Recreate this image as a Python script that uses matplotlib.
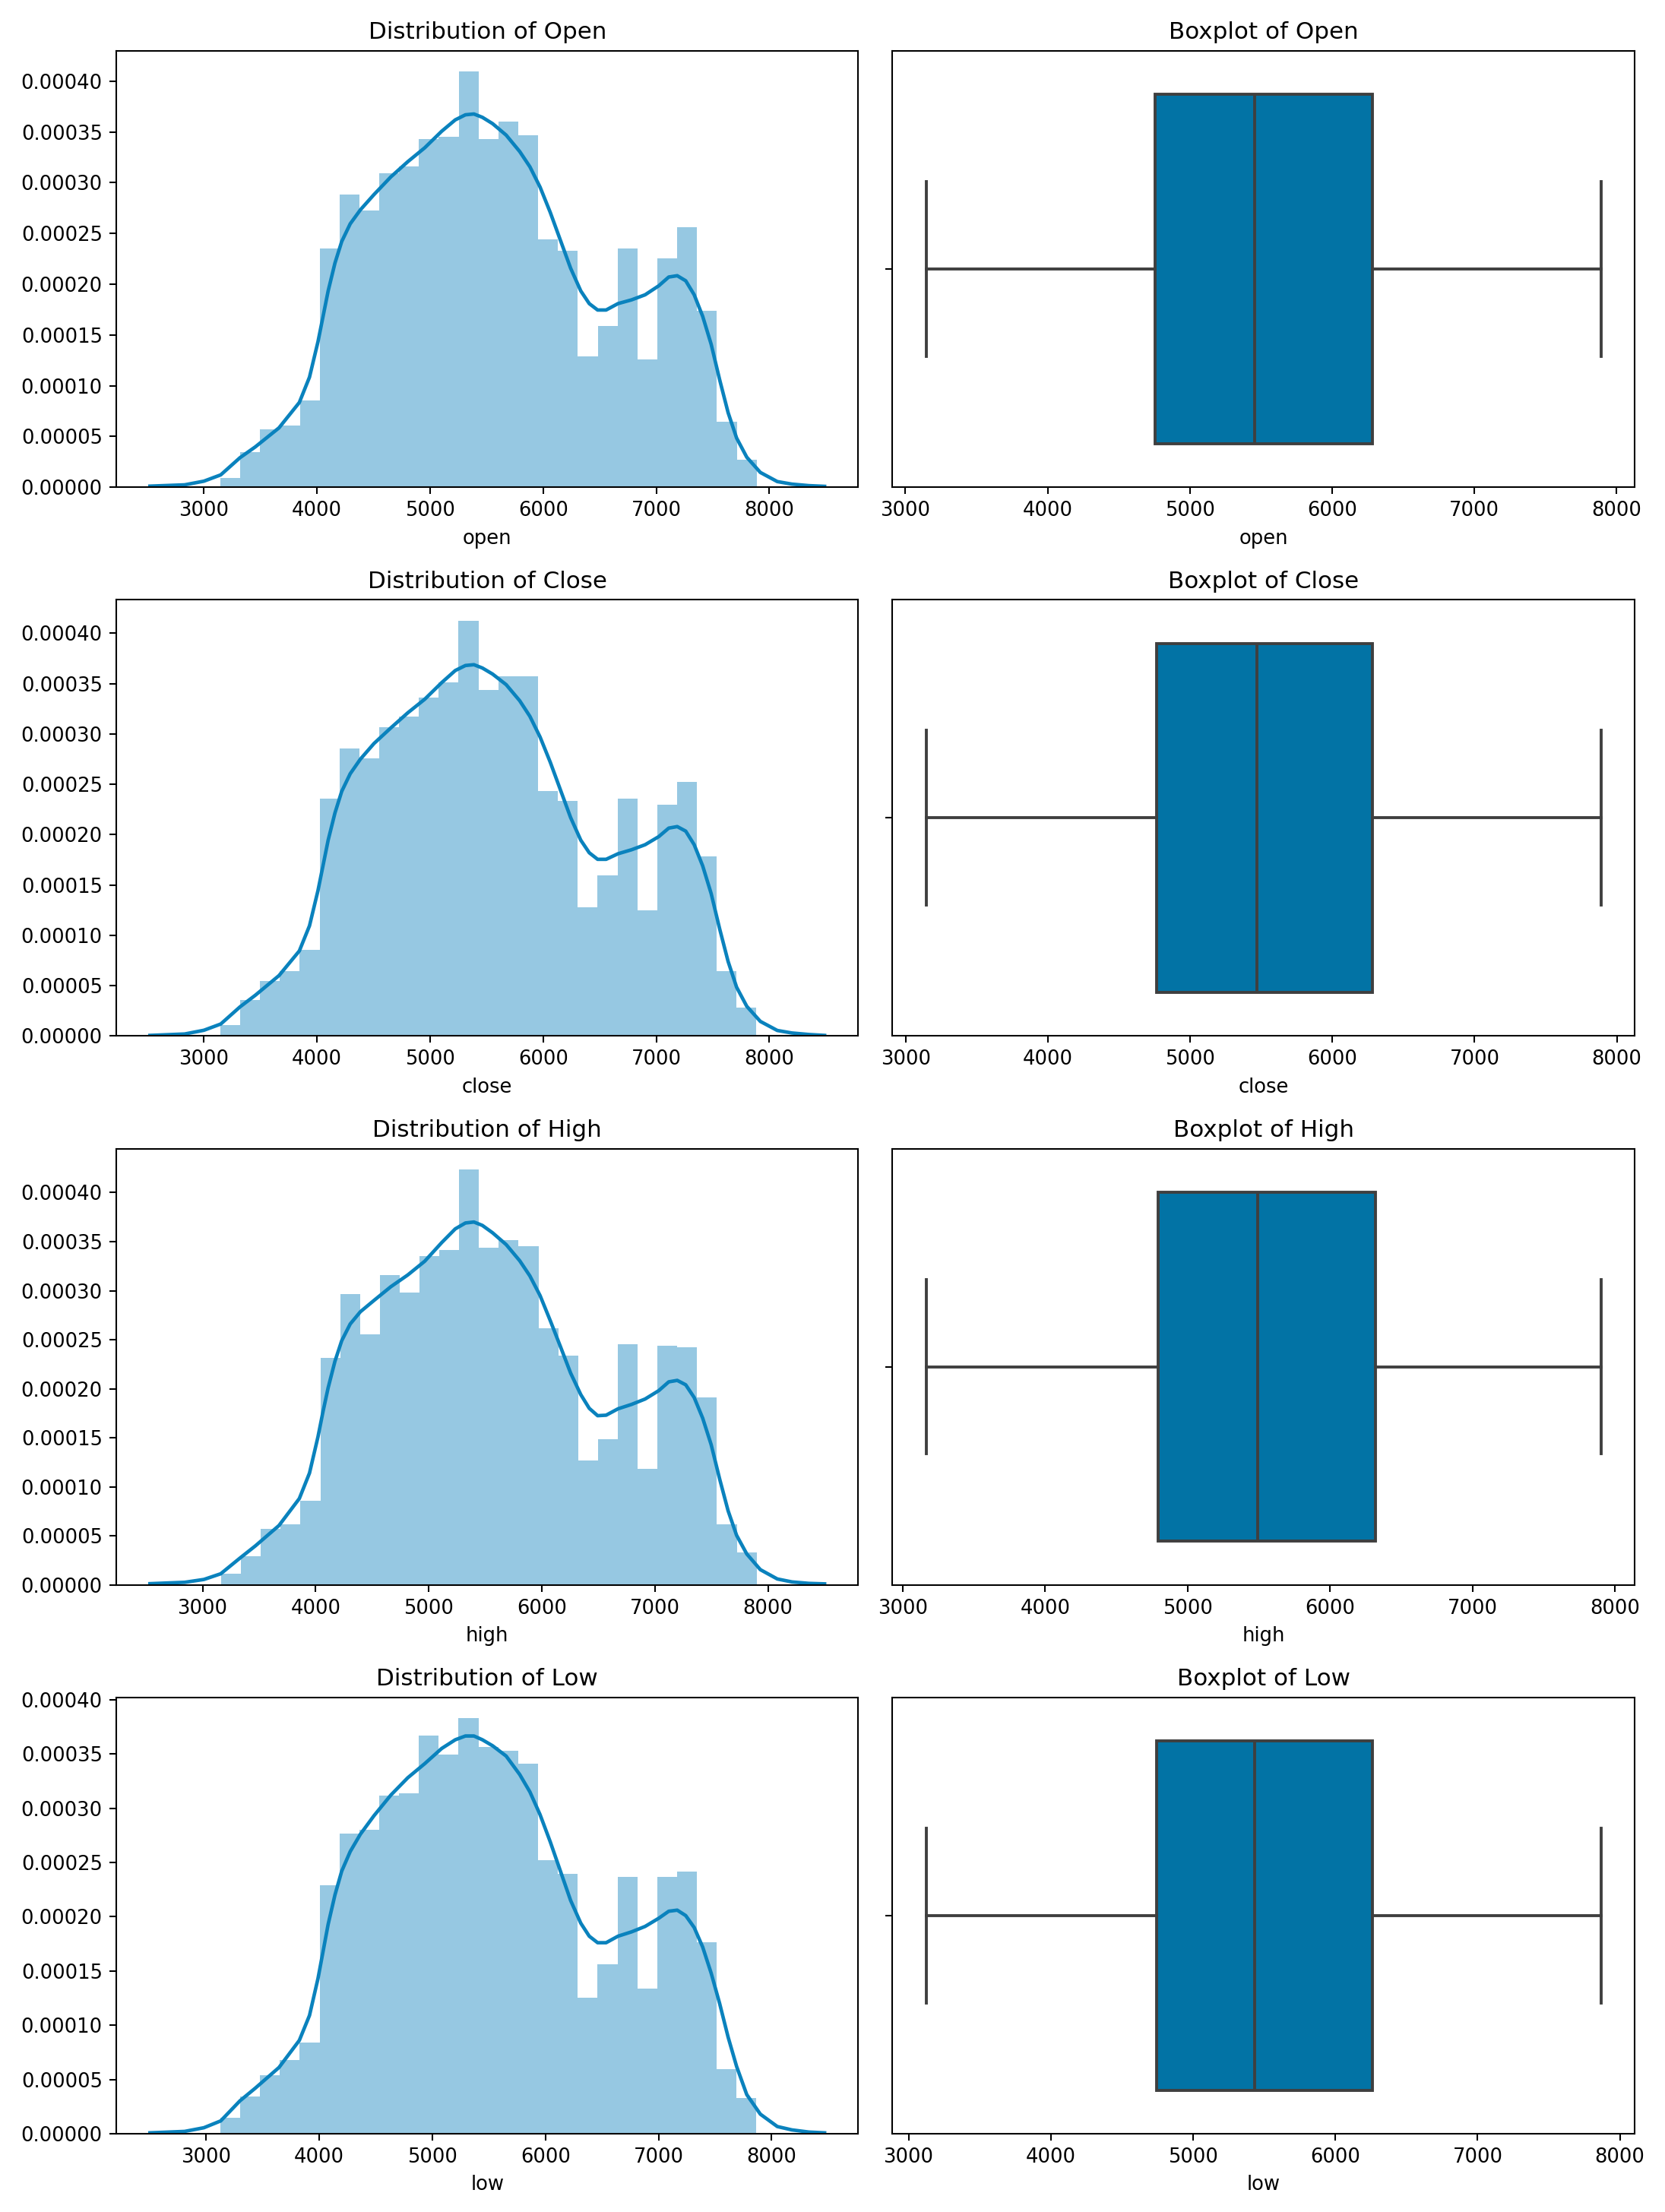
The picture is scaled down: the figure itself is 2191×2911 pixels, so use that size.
import numpy as np
import matplotlib
matplotlib.use("Agg")
import matplotlib.pyplot as plt

# ---------------- data ----------------
columns = ["open", "close", "high", "low"]
titles = ["Open", "Close", "High", "Low"]

# histogram densities (27 bins between min and max), values x 1e-5
hist_open = [0.87, 3.46, 5.66, 6.06, 8.54, 23.52, 28.82, 27.27, 30.93, 31.63, 34.31, 34.5, 40.93, 34.31,
             36.0, 34.68, 24.39, 23.32, 12.9, 15.86, 23.52, 12.62, 22.56, 25.58, 17.41, 6.42, 2.68]
hist_close = [1.05, 3.6, 5.44, 6.43, 8.56, 23.57, 28.53, 27.59, 30.65, 31.73, 33.63, 35.13, 41.27, 34.39,
              35.75, 35.75, 24.36, 23.37, 12.75, 15.92, 23.57, 12.52, 23.0, 25.27, 17.85, 6.43, 2.83]
hist_high = [1.13, 2.93, 5.71, 6.21, 8.61, 23.17, 29.64, 25.55, 31.58, 29.84, 33.56, 34.14, 42.37, 34.34,
             35.12, 34.54, 26.13, 23.4, 12.67, 14.85, 24.56, 11.86, 24.39, 24.19, 19.11, 6.21, 3.31]
hist_low = [1.45, 3.42, 5.39, 6.79, 8.37, 22.89, 27.63, 28.03, 31.18, 31.37, 36.71, 34.95, 38.29, 35.66,
            35.32, 34.08, 25.21, 23.95, 12.5, 15.63, 23.63, 13.34, 23.63, 24.16, 17.63, 5.92, 3.29]

# KDE curves (x, density x 1e-5)
kde_x_open = [2523, 2830, 3000, 3149, 3319, 3455, 3664, 3844, 3934, 4009, 4054, 4099, 4159, 4219, 4294,
              4384, 4504, 4653, 4803, 4953, 5103, 5223, 5313, 5388, 5463, 5553, 5673, 5793, 5883, 5973,
              6063, 6153, 6243, 6333, 6408, 6482, 6557, 6662, 6782, 6902, 7022, 7111, 7186, 7261, 7336,
              7411, 7486, 7561, 7636, 7711, 7801, 7921, 8071, 8200, 8350, 8489]
kde_y_open = [0.1, 0.23, 0.59, 1.21, 2.9, 3.97, 5.84, 8.34, 10.84, 14.33, 16.83, 19.33, 22.07, 24.2, 25.94,
              27.32, 28.82, 30.56, 32.06, 33.43, 35.06, 36.18, 36.68, 36.76, 36.43, 35.81, 34.68, 33.06,
              31.56, 29.56, 27.07, 24.32, 21.57, 19.33, 18.08, 17.45, 17.45, 18.08, 18.45, 18.95, 19.83,
              20.7, 20.83, 20.33, 18.95, 16.83, 14.08, 10.59, 7.34, 4.84, 2.95, 1.45, 0.55, 0.3, 0.15, 0.08]
kde_x_close = [2523, 2830, 3000, 3149, 3319, 3455, 3664, 3844, 3934, 4009, 4054, 4099, 4159, 4219, 4294,
               4384, 4504, 4653, 4803, 4953, 5103, 5223, 5313, 5388, 5463, 5553, 5673, 5793, 5883, 5973,
               6063, 6153, 6243, 6333, 6408, 6482, 6557, 6662, 6782, 6902, 7022, 7111, 7186, 7261, 7336,
               7411, 7486, 7561, 7636, 7711, 7801, 7921, 8071, 8200, 8350, 8489]
kde_y_close = [0.06, 0.2, 0.57, 1.19, 2.89, 4.05, 6.0, 8.45, 10.95, 14.45, 16.95, 19.45, 22.15, 24.3, 26.05,
               27.5, 29.05, 30.6, 32.1, 33.45, 35.1, 36.3, 36.8, 36.88, 36.55, 35.95, 34.9, 33.3, 31.75,
               29.7, 27.2, 24.45, 21.7, 19.45, 18.2, 17.55, 17.55, 18.1, 18.5, 19.0, 19.8, 20.65, 20.8,
               20.35, 19.0, 16.9, 14.15, 10.65, 7.4, 4.85, 2.95, 1.45, 0.55, 0.3, 0.15, 0.06]
kde_x_high = [2535, 2842, 3012, 3161, 3331, 3467, 3676, 3856, 3946, 4021, 4066, 4111, 4171, 4231, 4306,
              4396, 4516, 4665, 4815, 4965, 5115, 5235, 5325, 5400, 5475, 5565, 5685, 5805, 5895, 5985,
              6075, 6165, 6255, 6345, 6420, 6494, 6569, 6674, 6794, 6914, 7034, 7123, 7198, 7273, 7348,
              7423, 7498, 7573, 7648, 7723, 7813, 7933, 8083, 8212, 8362, 8501]
kde_y_high = [0.12, 0.26, 0.55, 1.13, 2.73, 3.97, 6.05, 8.8, 11.4, 15.1, 17.7, 20.1, 22.8, 24.9, 26.6,
              27.85, 29.0, 30.4, 31.6, 33.0, 34.9, 36.3, 36.9, 37.0, 36.65, 35.9, 34.7, 33.05, 31.5, 29.5,
              26.95, 24.3, 21.6, 19.4, 18.0, 17.25, 17.3, 17.95, 18.4, 18.95, 19.8, 20.7, 20.85, 20.4, 19.1,
              17.0, 14.3, 10.8, 7.55, 5.05, 3.15, 1.55, 0.6, 0.3, 0.15, 0.1]
kde_x_low = [2502, 2809, 2979, 3128, 3298, 3434, 3643, 3823, 3913, 3988, 4033, 4078, 4138, 4198, 4273,
             4363, 4483, 4632, 4782, 4932, 5082, 5202, 5292, 5367, 5442, 5532, 5652, 5772, 5862, 5952,
             6042, 6132, 6222, 6312, 6387, 6461, 6536, 6641, 6761, 6881, 7001, 7090, 7165, 7240, 7315,
             7390, 7465, 7540, 7615, 7690, 7780, 7900, 8050, 8179, 8329, 8468]
kde_y_low = [0.08, 0.21, 0.55, 1.18, 3.03, 4.2, 6.1, 8.6, 10.9, 14.3, 16.8, 19.3, 22.0, 24.2, 26.0,
             27.6, 29.3, 31.2, 32.8, 34.1, 35.5, 36.3, 36.65, 36.65, 36.3, 35.75, 34.8, 33.1, 31.5, 29.4,
             26.9, 24.2, 21.5, 19.4, 18.2, 17.6, 17.6, 18.2, 18.6, 19.1, 19.85, 20.5, 20.6, 20.1, 19.0,
             17.2, 14.8, 12.0, 8.9, 6.2, 3.6, 1.8, 0.66, 0.35, 0.15, 0.08]

# box statistics: min, q1, median, q3, max
box_open = [3146, 4755, 5457, 6282, 7888]
box_close = [3145, 4765, 5469, 6284, 7887]
box_high = [3165, 4794, 5491, 6320, 7900]
box_low = [3124, 4745, 5431, 6262, 7866]

hists = [hist_open, hist_close, hist_high, hist_low]
kdes = [(kde_x_open, kde_y_open), (kde_x_close, kde_y_close),
        (kde_x_high, kde_y_high), (kde_x_low, kde_y_low)]
boxes = [box_open, box_close, box_high, box_low]

# ---------------- style ----------------
line_color = "#0A82BD"
hist_color = "#96C8E2"
box_color = "#0273A5"
edge_color = "#3F3F3F"

fig, axes = plt.subplots(4, 2, figsize=(2191 / 186, 2911 / 186), dpi=186)
fig.subplots_adjust(left=0.0698, right=0.9817, top=0.977, bottom=0.0354,
                    hspace=0.258, wspace=0.046)

for i in range(4):
    ax_h, ax_b = axes[i]
    h = np.array(hists[i]) * 1e-5
    b = boxes[i]
    edges = np.linspace(b[0], b[4], len(h) + 1)
    ax_h.bar(edges[:-1], h, width=np.diff(edges), align="edge",
             color=hist_color, linewidth=0)
    kx, ky = kdes[i]
    ax_h.plot(kx, np.array(ky) * 1e-5, color=line_color, lw=1.8,
              solid_joinstyle="round")
    ax_h.set_title(f"Distribution of {titles[i]}")
    ax_h.set_xlabel(columns[i])

    stats = [{"whislo": b[0], "q1": b[1], "med": b[2], "q3": b[3], "whishi": b[4], "fliers": []}]
    ax_b.bxp(stats, positions=[0], widths=0.8, orientation="horizontal",
             patch_artist=True, showfliers=False, capwidths=0.4,
             boxprops=dict(facecolor=box_color, edgecolor=edge_color, linewidth=1.5),
             medianprops=dict(color=edge_color, linewidth=1.5),
             whiskerprops=dict(color=edge_color, linewidth=1.5),
             capprops=dict(color=edge_color, linewidth=1.5))
    ax_b.set_ylim(0.5, -0.5)
    ax_b.set_yticks([0])
    ax_b.set_yticklabels([""])
    ax_b.set_xlim(b[0] - 0.05 * (b[4] - b[0]), b[4] + 0.05 * (b[4] - b[0]))
    ax_b.set_title(f"Boxplot of {titles[i]}")
    ax_b.set_xlabel(columns[i])

fig.savefig("out.png", dpi=186, facecolor="white")
